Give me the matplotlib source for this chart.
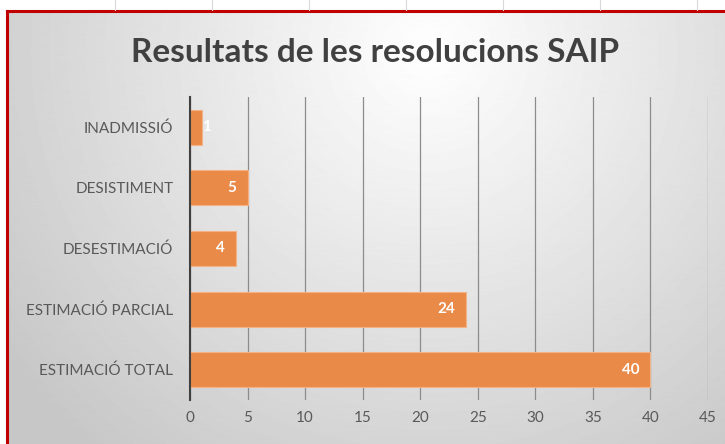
import matplotlib.pyplot as plt
import numpy as np

categories = ["ESTIMACIÓ TOTAL", "ESTIMACIÓ PARCIAL", "DESESTIMACIÓ", "DESISTIMENT", "INADMISSIÓ"]
values = [40, 24, 4, 5, 1]
xticks = [0, 5, 10, 15, 20, 25, 30, 35, 40, 45]

plt.rcParams['font.family'] = ['Lato', 'DejaVu Sans']

W, H = 725, 444
fig = plt.figure(figsize=(W / 100, H / 100), dpi=100)
fig.patch.set_facecolor('white')

# chart background: radial grey gradient, inside red frame
bg = fig.add_axes([8 / W, 0, 1 - 8 / W, 1 - 12 / H])
yy, xx = np.mgrid[0:432, 0:717]
r = np.sqrt(((xx - 420) / 520.0) ** 2 + ((yy - 40) / 520.0) ** 2)
shade = np.clip(1.0 - 0.22 * r, 0.78, 1.0)
bg.imshow(shade, cmap='gray', vmin=0, vmax=1, aspect='auto', extent=[0, 1, 0, 1])
bg.set_axis_off()

# red frame (left and top)
fig.add_artist(plt.Line2D([7 / W, 7 / W], [0, 1 - 11 / H], color='#c00000', lw=2.2))
fig.add_artist(plt.Line2D([7 / W, 1], [1 - 11 / H, 1 - 11 / H], color='#c00000', lw=2.2))
# faint sheet cell lines in the white strip above
for xc in [115, 212, 309, 406, 503, 600, 697]:
    fig.add_artist(plt.Line2D([xc / W, xc / W], [1 - 10 / H, 1], color='#d9d9d9', lw=0.8))

ax = fig.add_axes([190 / W, 1 - 400 / H, (708 - 190) / W, (400 - 97) / H])
ax.set_facecolor('none')
y = np.arange(len(categories))
ax.barh(y, values, height=0.58, color='#ea8a48', edgecolor='#f4b183', lw=0.8, zorder=2)
for yi, v in zip(y, values):
    if v >= 3:
        ax.annotate(str(v), (v, yi), xytext=(-8, 0), textcoords='offset points',
                    ha='right', va='center', color='white', fontsize=11,
                    fontweight='bold', zorder=3)
    else:
        ax.annotate(str(v), (v, yi), xytext=(0.5, 0), textcoords='offset points',
                    ha='left', va='center', color='white', fontsize=11,
                    fontweight='bold', zorder=3)

ax.set_xlim(0, 45)
ax.set_ylim(-0.5, len(categories) - 0.5)
ax.set_xticks(xticks)
ax.set_yticks(y)
ax.set_yticklabels(categories)
ax.xaxis.grid(True, color='#8c8c8c', lw=0.9, zorder=0)
ax.set_axisbelow(True)
for s in ['top', 'right', 'bottom']:
    ax.spines[s].set_visible(False)
ax.spines['left'].set_color('#404040')
ax.spines['left'].set_linewidth(1.5)
ax.tick_params(axis='both', length=0, colors='#595959', labelsize=11)
ax.tick_params(axis='y', pad=12)
ax.tick_params(axis='x', pad=8)

fig.text(375 / W, 1 - 52 / H, "Resultats de les resolucions SAIP", ha='center', va='center',
         fontsize=24, fontweight='bold', color='#404040')

fig.savefig('out.png', dpi=100)
